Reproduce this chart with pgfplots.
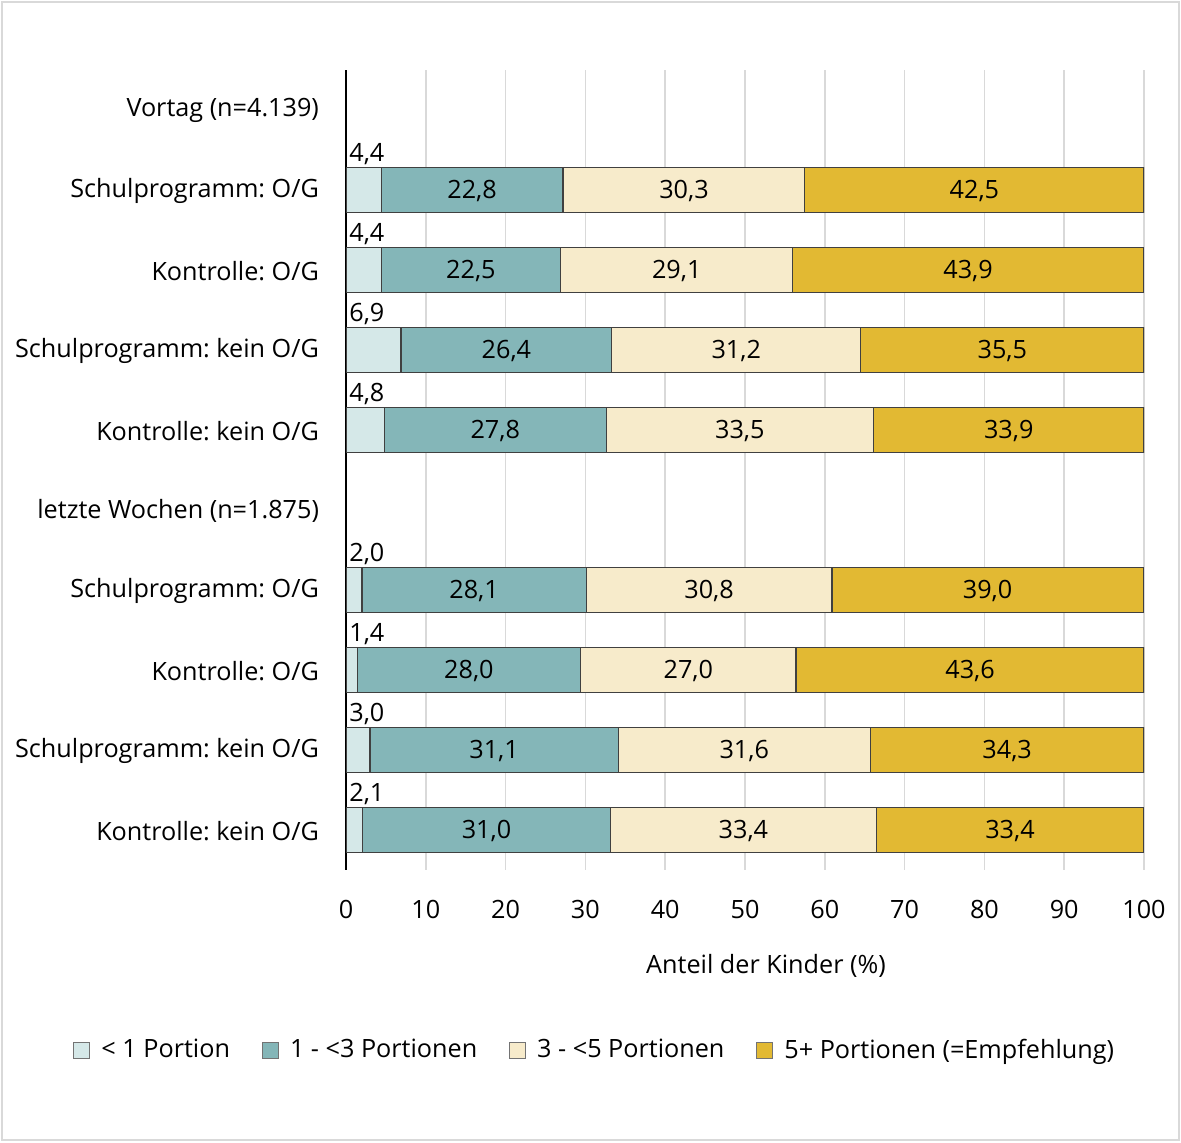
\documentclass[border=0pt]{standalone}
\usepackage{fontspec}
\setmainfont{Open Sans}
\usepackage{pgfplots}
\usepackage{pgfplotstable}
\pgfplotsset{compat=1.18}
\frenchspacing
\definecolor{cA}{HTML}{D5E8E8}
\definecolor{cB}{HTML}{84B6B8}
\definecolor{cC}{HTML}{F7EBCB}
\definecolor{cD}{HTML}{E2B933}
\definecolor{edge}{HTML}{404040}
\definecolor{gridc}{HTML}{D9D9D9}
\pgfplotstableread{
row a b c d
1 4.4 22.8 30.3 42.5
2 4.4 22.5 29.1 43.9
3 6.9 26.4 31.2 35.5
4 4.8 27.8 33.5 33.9
6 2.0 28.1 30.8 39.0
7 1.4 28.0 27.0 43.6
8 3.0 31.1 31.6 34.3
9 2.1 31.0 33.4 33.4
}\data
\newcommand{\fs}{\fontsize{12.6}{15}\selectfont}
\pgfplotsset{
  common/.style={width=399pt,height=400pt,scale only axis,
    xmin=0,xmax=100,ymin=-0.5,ymax=9.5,y dir=reverse,
    at={(173pt,136pt)},anchor=south west},
  /pgf/number format/assume math mode=true,
}
\begin{document}
\begin{tikzpicture}[font=\fs]
\useasboundingbox (0pt,0pt) rectangle (590.5pt,571pt);
\draw[gridc,line width=0.8pt] (1pt,1pt) rectangle (589.5pt,570pt);
\begin{axis}[common,
  xbar stacked, bar width=22.5pt,
  axis lines*=left, x axis line style={draw=none},
  y axis line style={black,line width=0.9pt},
  major tick length=0pt,
  xmajorgrids, grid style={gridc,line width=0.8pt},
  xtick={0,10,...,100},
  ytick={0,...,9},
  yticklabels={Vortag (n=4.139),Schulprogramm: O/G,Kontrolle: O/G,Schulprogramm: kein O/G,Kontrolle: kein O/G,letzte Wochen (n=1.875),Schulprogramm: O/G,Kontrolle: O/G,Schulprogramm: kein O/G,Kontrolle: kein O/G},
  yticklabel style={xshift=-10pt,yshift=-0.3pt,font=\fs},
  xticklabel style={yshift=-11.5pt,font=\fs},
  legend columns=4,
  legend style={at={(0.313,-0.225)},anchor=center,draw=none,fill=none,
    font=\fs,
    /tikz/every odd column/.append style={column sep=3.5pt},
    /tikz/every even column/.append style={column sep=14pt}},
  legend image code/.code={\draw[#1,draw=black!55,line width=0.5pt] (0pt,-4pt) rectangle (8pt,4pt);},
]
\addplot[fill=cA,draw=edge,line width=0.6pt] table[x=a,y=row]{\data};
\addlegendentry{< 1 Portion}
\addplot[fill=cB,draw=edge,line width=0.6pt] table[x=b,y=row]{\data};
\addlegendentry{1 - <3 Portionen}
\addplot[fill=cC,draw=edge,line width=0.6pt] table[x=c,y=row]{\data};
\addlegendentry{3 - <5 Portionen}
\addplot[fill=cD,draw=edge,line width=0.6pt] table[x=d,y=row]{\data};
\addlegendentry{5+ Portionen (=Empfehlung)}
\end{axis}
\begin{axis}[common, hide axis,
  nodes near coords={\pgfmathprintnumber[use comma,fixed,fixed zerofill,precision=1,assume math mode=true]{\pgfplotspointmeta}},
  every node near coord/.append style={font=\fs,text=black},
]
\addplot[draw=none,mark=none,point meta=explicit,
  every node near coord/.append style={anchor=south west,inner sep=1pt,xshift=0.5pt}]
  table[x expr=0,y expr=\thisrow{row}-0.29,meta=a]{\data};
\addplot[draw=none,mark=none,point meta=explicit,
  every node near coord/.append style={anchor=center,yshift=-0.5pt}]
  table[x expr=\thisrow{a}+\thisrow{b}/2,y=row,meta=b]{\data};
\addplot[draw=none,mark=none,point meta=explicit,
  every node near coord/.append style={anchor=center,yshift=-0.5pt}]
  table[x expr=\thisrow{a}+\thisrow{b}+\thisrow{c}/2,y=row,meta=c]{\data};
\addplot[draw=none,mark=none,point meta=explicit,
  every node near coord/.append style={anchor=center,yshift=-0.5pt}]
  table[x expr=\thisrow{a}+\thisrow{b}+\thisrow{c}+\thisrow{d}/2,y=row,meta=d]{\data};
\end{axis}
\node at (383pt,88pt) {Anteil der Kinder (\%)};
\end{tikzpicture}
\end{document}
